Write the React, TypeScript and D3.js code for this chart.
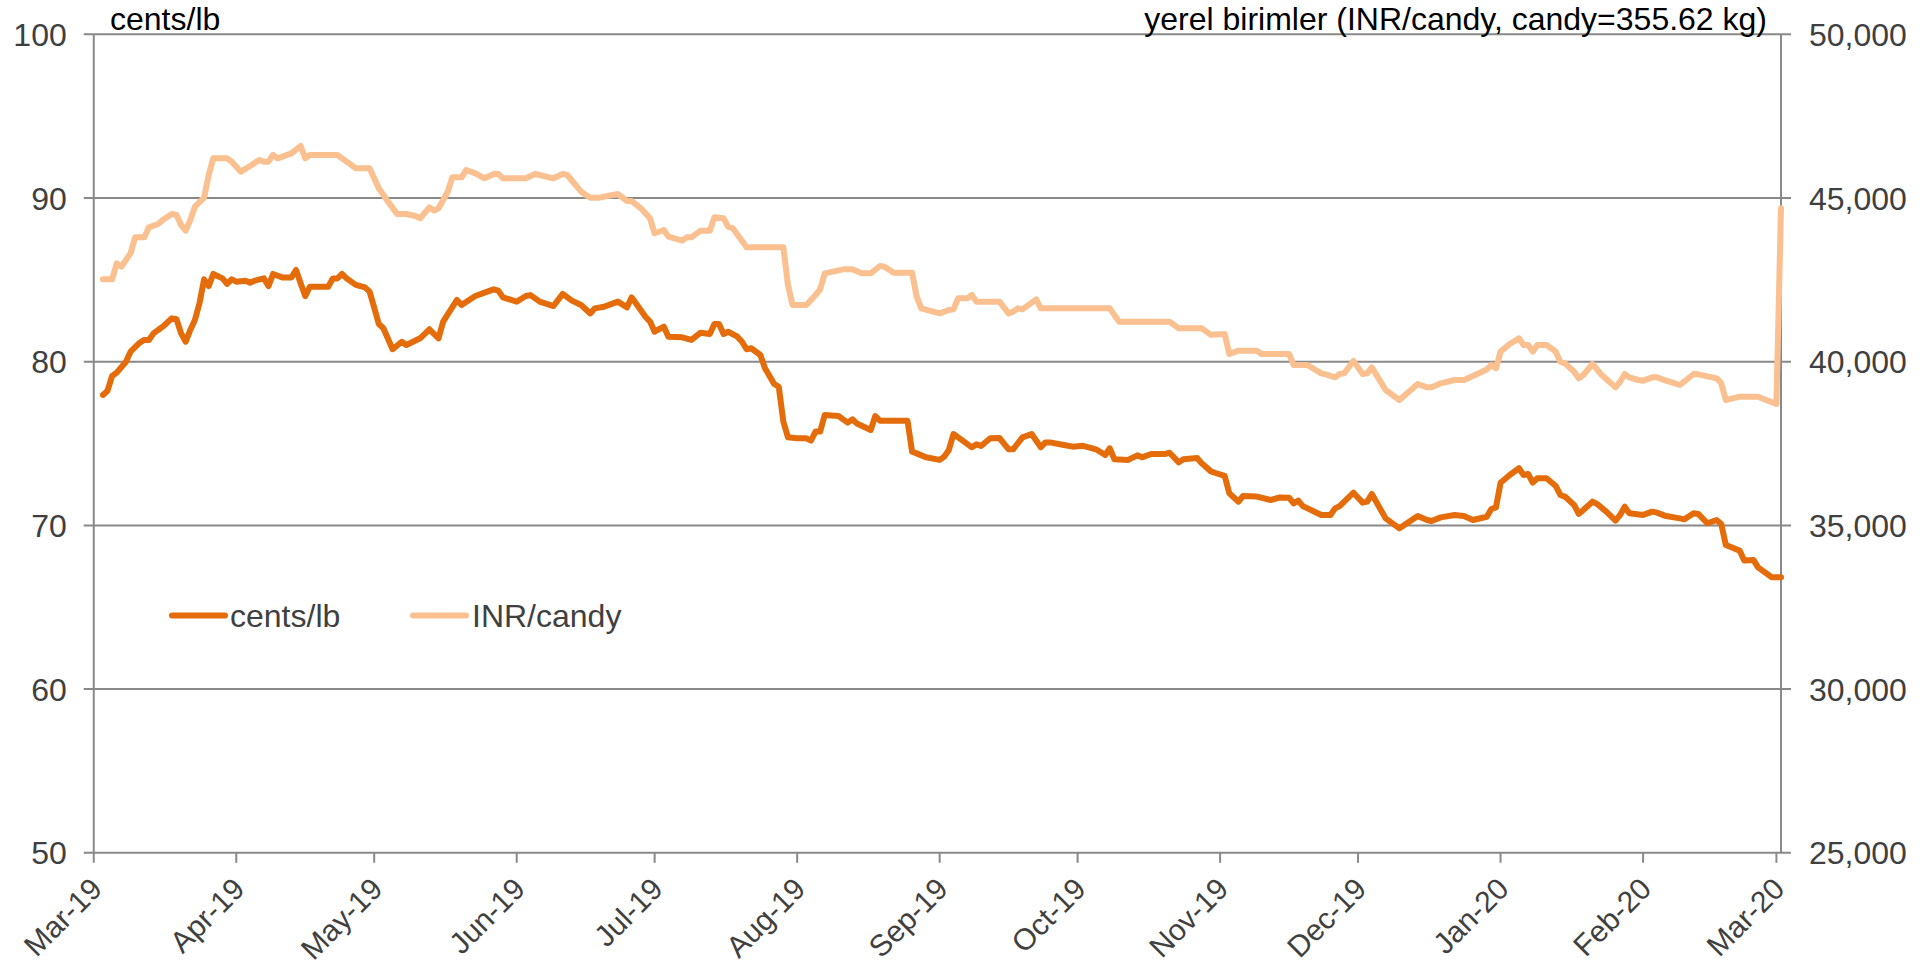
import React from "react";
import * as d3 from "d3";

// ---------- DATA ----------
const centsSeries: [string, number][] = [
  ["2019-03-03", 77.97], ["2019-03-04", 78.23], ["2019-03-05", 79.13], ["2019-03-06", 79.33],
  ["2019-03-08", 80.0], ["2019-03-09", 80.61], ["2019-03-11", 81.16], ["2019-03-12", 81.33],
  ["2019-03-13", 81.33], ["2019-03-14", 81.73], ["2019-03-15", 81.94], ["2019-03-16", 82.14],
  ["2019-03-18", 82.65], ["2019-03-19", 82.59], ["2019-03-20", 81.73], ["2019-03-21", 81.22],
  ["2019-03-22", 81.94], ["2019-03-23", 82.55], ["2019-03-24", 83.57], ["2019-03-25", 85.03],
  ["2019-03-26", 84.62], ["2019-03-27", 85.36], ["2019-03-29", 85.09], ["2019-03-30", 84.75],
  ["2019-03-31", 85.03], ["2019-04-01", 84.89], ["2019-04-03", 84.95], ["2019-04-04", 84.83],
  ["2019-04-05", 84.95], ["2019-04-07", 85.09], ["2019-04-08", 84.62], ["2019-04-09", 85.36],
  ["2019-04-11", 85.15], ["2019-04-13", 85.15], ["2019-04-14", 85.6], ["2019-04-15", 84.79],
  ["2019-04-16", 84.01], ["2019-04-17", 84.58], ["2019-04-21", 84.58], ["2019-04-22", 85.09],
  ["2019-04-23", 85.09], ["2019-04-24", 85.36], ["2019-04-25", 85.09], ["2019-04-27", 84.69],
  ["2019-04-29", 84.54], ["2019-04-30", 84.28], ["2019-05-01", 83.3], ["2019-05-02", 82.3],
  ["2019-05-03", 82.04], ["2019-05-05", 80.76], ["2019-05-07", 81.22], ["2019-05-08", 81.02],
  ["2019-05-11", 81.43], ["2019-05-13", 81.98], ["2019-05-15", 81.43], ["2019-05-16", 82.45],
  ["2019-05-19", 83.77], ["2019-05-20", 83.46], ["2019-05-23", 84.01], ["2019-05-25", 84.22],
  ["2019-05-27", 84.42], ["2019-05-28", 84.34], ["2019-05-29", 83.93], ["2019-06-01", 83.67],
  ["2019-06-03", 84.01], ["2019-06-04", 84.07], ["2019-06-06", 83.67], ["2019-06-09", 83.4],
  ["2019-06-11", 84.14], ["2019-06-13", 83.73], ["2019-06-15", 83.46], ["2019-06-17", 82.95],
  ["2019-06-18", 83.26], ["2019-06-20", 83.36], ["2019-06-23", 83.67], ["2019-06-25", 83.32],
  ["2019-06-26", 83.93], ["2019-06-29", 82.75], ["2019-06-30", 82.45], ["2019-07-01", 81.83],
  ["2019-07-03", 82.14], ["2019-07-04", 81.53], ["2019-07-07", 81.49], ["2019-07-09", 81.33],
  ["2019-07-11", 81.77], ["2019-07-13", 81.69], ["2019-07-14", 82.3], ["2019-07-15", 82.3],
  ["2019-07-16", 81.69], ["2019-07-17", 81.83], ["2019-07-19", 81.53], ["2019-07-20", 81.22],
  ["2019-07-21", 80.76], ["2019-07-22", 80.82], ["2019-07-24", 80.41], ["2019-07-25", 79.6],
  ["2019-07-27", 78.64], ["2019-07-28", 78.47], ["2019-07-29", 76.34], ["2019-07-30", 75.38],
  ["2019-08-01", 75.32], ["2019-08-03", 75.32], ["2019-08-04", 75.18], ["2019-08-05", 75.73],
  ["2019-08-06", 75.73], ["2019-08-07", 76.74], ["2019-08-10", 76.68], ["2019-08-11", 76.48],
  ["2019-08-12", 76.28], ["2019-08-13", 76.48], ["2019-08-14", 76.23], ["2019-08-17", 75.83],
  ["2019-08-18", 76.68], ["2019-08-19", 76.4], ["2019-08-25", 76.4], ["2019-08-26", 74.5],
  ["2019-08-27", 74.4], ["2019-08-29", 74.16], ["2019-09-01", 74.0], ["2019-09-02", 74.2],
  ["2019-09-03", 74.61], ["2019-09-04", 75.58], ["2019-09-06", 75.18], ["2019-09-08", 74.77],
  ["2019-09-09", 74.95], ["2019-09-10", 74.85], ["2019-09-12", 75.32], ["2019-09-14", 75.34],
  ["2019-09-16", 74.65], ["2019-09-17", 74.65], ["2019-09-19", 75.38], ["2019-09-21", 75.58],
  ["2019-09-23", 74.77], ["2019-09-24", 75.07], ["2019-09-25", 75.07], ["2019-09-28", 74.91],
  ["2019-09-30", 74.81], ["2019-10-02", 74.87], ["2019-10-05", 74.65], ["2019-10-07", 74.3],
  ["2019-10-08", 74.71], ["2019-10-09", 74.04], ["2019-10-12", 74.0], ["2019-10-14", 74.28],
  ["2019-10-15", 74.16], ["2019-10-17", 74.36], ["2019-10-20", 74.36], ["2019-10-21", 74.44],
  ["2019-10-23", 73.85], ["2019-10-24", 74.04], ["2019-10-27", 74.12], ["2019-10-28", 73.79],
  ["2019-10-30", 73.3], ["2019-10-31", 73.2], ["2019-11-02", 73.02], ["2019-11-03", 71.96],
  ["2019-11-05", 71.45], ["2019-11-06", 71.8], ["2019-11-09", 71.76], ["2019-11-12", 71.55],
  ["2019-11-14", 71.71], ["2019-11-16", 71.69], ["2019-11-17", 71.35], ["2019-11-18", 71.51],
  ["2019-11-19", 71.18], ["2019-11-23", 70.64], ["2019-11-25", 70.64], ["2019-11-26", 71.04],
  ["2019-11-27", 71.18], ["2019-11-30", 72.0], ["2019-12-02", 71.39], ["2019-12-03", 71.45],
  ["2019-12-04", 71.92], ["2019-12-07", 70.43], ["2019-12-10", 69.82], ["2019-12-14", 70.57],
  ["2019-12-16", 70.33], ["2019-12-17", 70.27], ["2019-12-19", 70.49], ["2019-12-22", 70.64],
  ["2019-12-24", 70.57], ["2019-12-26", 70.33], ["2019-12-29", 70.53], ["2019-12-30", 71.0],
  ["2019-12-31", 71.1], ["2020-01-01", 72.6], ["2020-01-03", 73.08], ["2020-01-05", 73.49],
  ["2020-01-06", 73.08], ["2020-01-07", 73.14], ["2020-01-08", 72.61], ["2020-01-09", 72.88],
  ["2020-01-11", 72.88], ["2020-01-13", 72.41], ["2020-01-14", 71.86], ["2020-01-15", 71.76],
  ["2020-01-17", 71.25], ["2020-01-18", 70.7], ["2020-01-19", 70.94], ["2020-01-21", 71.45],
  ["2020-01-22", 71.31], ["2020-01-24", 70.84], ["2020-01-26", 70.29], ["2020-01-27", 70.64],
  ["2020-01-28", 71.14], ["2020-01-29", 70.74], ["2020-02-01", 70.64], ["2020-02-03", 70.84],
  ["2020-02-04", 70.78], ["2020-02-06", 70.57], ["2020-02-09", 70.43], ["2020-02-10", 70.37],
  ["2020-02-12", 70.74], ["2020-02-13", 70.7], ["2020-02-15", 70.13], ["2020-02-17", 70.33],
  ["2020-02-18", 70.09], ["2020-02-19", 68.8], ["2020-02-22", 68.46], ["2020-02-23", 67.85],
  ["2020-02-25", 67.89], ["2020-02-26", 67.44], ["2020-02-29", 66.83], ["2020-03-02", 66.83],
];

const inrSeries: [string, number][] = [
  ["2019-03-03", 42515], ["2019-03-05", 42515], ["2019-03-06", 43005], ["2019-03-07", 42902],
  ["2019-03-08", 43106], ["2019-03-09", 43310], ["2019-03-10", 43799], ["2019-03-12", 43799],
  ["2019-03-13", 44104], ["2019-03-15", 44206], ["2019-03-16", 44328], ["2019-03-18", 44511],
  ["2019-03-19", 44481], ["2019-03-20", 44175], ["2019-03-21", 44002], ["2019-03-22", 44328],
  ["2019-03-23", 44735], ["2019-03-25", 45010], ["2019-03-26", 45700], ["2019-03-27", 46212],
  ["2019-03-30", 46212], ["2019-03-31", 46110], ["2019-04-02", 45804], ["2019-04-04", 45977],
  ["2019-04-06", 46161], ["2019-04-07", 46110], ["2019-04-08", 46110], ["2019-04-09", 46314],
  ["2019-04-10", 46212], ["2019-04-13", 46364], ["2019-04-15", 46588], ["2019-04-16", 46212],
  ["2019-04-17", 46314], ["2019-04-23", 46314], ["2019-04-25", 46110], ["2019-04-27", 45907],
  ["2019-04-30", 45907], ["2019-05-02", 45296], ["2019-05-04", 44888], ["2019-05-06", 44511],
  ["2019-05-08", 44511], ["2019-05-10", 44450], ["2019-05-11", 44379], ["2019-05-13", 44715],
  ["2019-05-14", 44614], ["2019-05-15", 44685], ["2019-05-17", 45193], ["2019-05-18", 45632],
  ["2019-05-20", 45632], ["2019-05-21", 45855], ["2019-05-23", 45754], ["2019-05-25", 45601],
  ["2019-05-27", 45733], ["2019-05-28", 45733], ["2019-05-29", 45601], ["2019-06-03", 45601],
  ["2019-06-05", 45733], ["2019-06-06", 45703], ["2019-06-09", 45601], ["2019-06-11", 45733],
  ["2019-06-12", 45703], ["2019-06-15", 45193], ["2019-06-17", 45010], ["2019-06-19", 45010],
  ["2019-06-23", 45122], ["2019-06-25", 44908], ["2019-06-26", 44908], ["2019-06-28", 44685],
  ["2019-06-30", 44379], ["2019-07-01", 43922], ["2019-07-03", 44023], ["2019-07-04", 43819],
  ["2019-07-07", 43697], ["2019-07-08", 43799], ["2019-07-09", 43799], ["2019-07-11", 44002],
  ["2019-07-13", 44002], ["2019-07-14", 44410], ["2019-07-16", 44379], ["2019-07-17", 44124],
  ["2019-07-18", 44073], ["2019-07-21", 43493], ["2019-07-22", 43493], ["2019-07-29", 43493],
  ["2019-07-30", 42343], ["2019-07-31", 41732], ["2019-08-03", 41732], ["2019-08-05", 42037],
  ["2019-08-06", 42210], ["2019-08-07", 42699], ["2019-08-11", 42822], ["2019-08-13", 42822],
  ["2019-08-15", 42699], ["2019-08-17", 42699], ["2019-08-19", 42923], ["2019-08-20", 42902],
  ["2019-08-22", 42719], ["2019-08-26", 42719], ["2019-08-27", 41986], ["2019-08-28", 41630],
  ["2019-09-01", 41477], ["2019-09-03", 41579], ["2019-09-04", 41600], ["2019-09-05", 41936],
  ["2019-09-07", 41936], ["2019-09-08", 42037], ["2019-09-09", 41834], ["2019-09-14", 41834],
  ["2019-09-16", 41477], ["2019-09-17", 41528], ["2019-09-18", 41630], ["2019-09-19", 41600],
  ["2019-09-22", 41905], ["2019-09-23", 41630], ["2019-10-08", 41630], ["2019-10-10", 41223],
  ["2019-10-21", 41223], ["2019-10-23", 41019], ["2019-10-28", 41019], ["2019-10-30", 40820],
  ["2019-11-02", 40846], ["2019-11-03", 40236], ["2019-11-05", 40337], ["2019-11-09", 40337],
  ["2019-11-10", 40236], ["2019-11-16", 40236], ["2019-11-17", 39900], ["2019-11-20", 39900],
  ["2019-11-23", 39645], ["2019-11-24", 39614], ["2019-11-26", 39523], ["2019-11-27", 39624],
  ["2019-11-28", 39645], ["2019-11-30", 40021], ["2019-12-02", 39624], ["2019-12-03", 39645],
  ["2019-12-04", 39828], ["2019-12-07", 39136], ["2019-12-10", 38830], ["2019-12-14", 39319],
  ["2019-12-16", 39217], ["2019-12-17", 39217], ["2019-12-19", 39339], ["2019-12-22", 39441],
  ["2019-12-24", 39441], ["2019-12-26", 39563], ["2019-12-29", 39760], ["2019-12-30", 39900],
  ["2019-12-31", 39797], ["2020-01-01", 40307], ["2020-01-03", 40541], ["2020-01-05", 40714],
  ["2020-01-06", 40511], ["2020-01-07", 40511], ["2020-01-08", 40307], ["2020-01-09", 40511],
  ["2020-01-11", 40511], ["2020-01-13", 40307], ["2020-01-14", 40000], ["2020-01-15", 39950],
  ["2020-01-17", 39695], ["2020-01-18", 39492], ["2020-01-19", 39594], ["2020-01-21", 39930],
  ["2020-01-23", 39594], ["2020-01-26", 39217], ["2020-01-27", 39390], ["2020-01-28", 39624],
  ["2020-01-29", 39523], ["2020-01-31", 39441], ["2020-02-01", 39420], ["2020-02-03", 39523],
  ["2020-02-04", 39523], ["2020-02-06", 39420], ["2020-02-09", 39288], ["2020-02-12", 39624],
  ["2020-02-13", 39614], ["2020-02-16", 39523], ["2020-02-17", 39492], ["2020-02-18", 39339],
  ["2020-02-19", 38830], ["2020-02-22", 38932], ["2020-02-26", 38932], ["2020-03-01", 38708],
  ["2020-03-02", 44685],
];

const leftTicks = [50, 60, 70, 80, 90, 100];
const rightTicks = [25000, 30000, 35000, 40000, 45000, 50000];
const monthTicks = [
  "2019-03-01", "2019-04-01", "2019-05-01", "2019-06-01", "2019-07-01", "2019-08-01",
  "2019-09-01", "2019-10-01", "2019-11-01", "2019-12-01", "2020-01-01", "2020-02-01", "2020-03-01",
];
const dateDomain = ["2019-03-01", "2020-03-02"];
const leftTitle = "cents/lb";
const rightTitle = "yerel birimler (INR/candy, candy=355.62 kg)";
const legendItems = ["cents/lb", "INR/candy"];

// ---------- STYLE ----------
const W = 1924;
const H = 980;
const M = { left: 93.75, right: 1781, top: 34.3, bottom: 852.8 };
const DARK = "#E46C0A";
const LIGHT = "#FAC090";
const GRID = "#898989";
const LABEL = "#404040";
const FONT = "'Liberation Sans', Arial, sans-serif";
const FS = 32;
const XFS = 30;
const LW = 6;

export default function App() {
  const parse = d3.timeParse("%Y-%m-%d");
  const fmt = d3.timeFormat("%b-%y");
  const x = d3.scaleTime().domain(dateDomain.map((d) => parse(d) as Date)).range([M.left, M.right]);
  const yL = d3.scaleLinear().domain([50, 100]).range([M.bottom, M.top]);
  const yR = d3.scaleLinear().domain([25000, 50000]).range([M.bottom, M.top]);

  const lineL = d3
    .line<[string, number]>()
    .x((d) => x(parse(d[0]) as Date))
    .y((d) => yL(d[1]));
  const lineR = d3
    .line<[string, number]>()
    .x((d) => x(parse(d[0]) as Date))
    .y((d) => yR(d[1]));

  const legendY = 615.5;

  return (
    <div style={{ position: "absolute", left: 0, top: 0, width: W, height: H, background: "#fff" }}>
      <svg width={W} height={H} style={{ display: "block", fontFamily: FONT }}>
        <rect x={0} y={0} width={W} height={H} fill="#fff" />
        {/* gridlines */}
        {leftTicks.map((t) => (
          <line key={"g" + t} x1={M.left - 10} x2={M.right + 10} y1={yL(t)} y2={yL(t)} stroke={GRID} strokeWidth={2} />
        ))}
        {/* axes */}
        <line x1={M.left} x2={M.left} y1={M.top} y2={M.bottom} stroke={GRID} strokeWidth={2} />
        <line x1={M.right} x2={M.right} y1={M.top} y2={M.bottom} stroke={GRID} strokeWidth={2} />
        {monthTicks.map((m) => {
          const xx = x(parse(m) as Date);
          return <line key={"t" + m} x1={xx} x2={xx} y1={M.bottom} y2={M.bottom + 10} stroke={GRID} strokeWidth={2} />;
        })}
        {/* left labels */}
        {leftTicks.map((t) => (
          <text key={"l" + t} x={M.left - 27} y={yL(t) + 11.5} textAnchor="end" fontSize={FS} fill={LABEL}>
            {t}
          </text>
        ))}
        {/* right labels */}
        {rightTicks.map((t) => (
          <text key={"r" + t} x={M.right + 28} y={yR(t) + 11.5} textAnchor="start" fontSize={FS} fill={LABEL}>
            {d3.format(",")(t)}
          </text>
        ))}
        {/* x labels */}
        {monthTicks.map((m) => {
          const xx = x(parse(m) as Date);
          return (
            <text
              key={"x" + m}
              transform={`translate(${xx + 10},${M.bottom + 38}) rotate(-45)`}
              textAnchor="end"
              fontSize={XFS}
              fill={LABEL}
            >
              {fmt(parse(m) as Date)}
            </text>
          );
        })}
        {/* titles */}
        <text x={110} y={29.5} fontSize={FS} fill="#000">
          {leftTitle}
        </text>
        <text x={1767} y={29.5} textAnchor="end" fontSize={FS} fill="#000">
          {rightTitle}
        </text>
        {/* series */}
        <path d={lineR(inrSeries) || ""} fill="none" stroke={LIGHT} strokeWidth={LW} strokeLinejoin="round" strokeLinecap="round" />
        <path d={lineL(centsSeries) || ""} fill="none" stroke={DARK} strokeWidth={LW} strokeLinejoin="round" strokeLinecap="round" />
        {/* legend */}
        <line x1={172} x2={225} y1={legendY} y2={legendY} stroke={DARK} strokeWidth={LW} strokeLinecap="round" />
        <text x={230} y={legendY + 11} fontSize={FS} fill={LABEL}>
          {legendItems[0]}
        </text>
        <line x1={413} x2={466} y1={legendY} y2={legendY} stroke={LIGHT} strokeWidth={LW} strokeLinecap="round" />
        <text x={472} y={legendY + 11} fontSize={FS} fill={LABEL}>
          {legendItems[1]}
        </text>
      </svg>
    </div>
  );
}
